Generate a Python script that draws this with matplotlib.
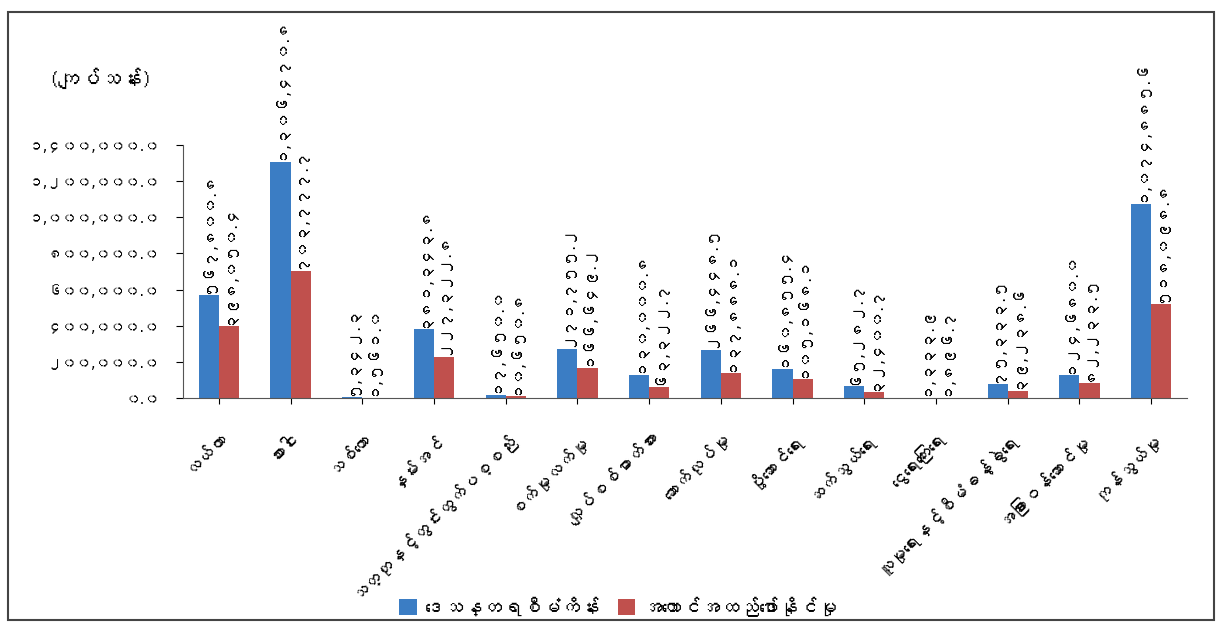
import matplotlib
matplotlib.use("Agg")
import matplotlib.pyplot as plt
import matplotlib.font_manager as fm
from matplotlib.patches import Rectangle
from matplotlib.ft2font import FT2Font
import numpy as np

BLUE = "#3B7DC4"
RED = "#C0504D"

categories = ["လယ်ယာ", "သားငါး", "သစ်တော", "နှမ်းအင်",
              "သတ္တုနှင့်တွင်းထွက်ပစ္စည်း", "စက်မှုလက်မှု", "လျှပ်စစ်ဓာတ်အား",
              "ဆောက်လုပ်မှု", "ပို့ဆောင်ရေး", "ဆက်သွယ်ရေး", "ငွေရေးကြေးရေး",
              "လူမှုရေးနှင့်စီမံခန့်ခွဲရေး", "အခြားဝန်ဆောင်မှု", "ကုန်သွယ်မှု"]
plan = [567800.8, 1306470.8, 5342.3, 381343.8, 17650.0, 271755.2, 130000.8,
        266448.5, 160855.4, 65282.7, 1333.9, 75333.5, 124680.0, 1074885.6]
actual = [398050.4, 703777.7, 1561.0, 227322.8, 10650.8, 166649.2, 63322.7,
          137888.1, 105168.1, 32400.7, 1896.7, 39238.6, 82233.5, 518098.8]
yticks = [0, 200000, 400000, 600000, 800000, 1000000, 1200000, 1400000]
series_names = ["ဒေသန္တရစီမံကိန်း", "အကောင်အထည်ဖော်နိုင်မှု"]
unit_label = "(ကျပ်သန်း)"

# find a font that actually has Myanmar glyphs, if any is installed
mm_fonts = []
for f in fm.fontManager.ttflist:
    try:
        if 0x1000 in FT2Font(f.fname).get_charmap() and f.name not in mm_fonts:
            mm_fonts.append(f.name)
    except Exception:
        pass
MM_FIRST = mm_fonts[:1] + ["DejaVu Sans"]
NUM_FAM = ["DejaVu Sans"] + mm_fonts[:1]   # narrow commas / points from DejaVu
plt.rcParams["font.family"] = MM_FIRST

MM_DIGITS = str.maketrans("0123456789", "၀၁၂၃၄၅၆၇၈၉")


def mm(v):
    return f"{v:,.1f}".translate(MM_DIGITS)


W, H = 1218, 625
fig = plt.figure(figsize=(W / 100, H / 100), dpi=100)
fig.patches.append(Rectangle((8 / W, 5 / H), (1214 - 8) / W, (613 - 5) / H,
                             transform=fig.transFigure, fill=False,
                             edgecolor="#444444", linewidth=1.5))
ax = fig.add_axes([183 / W, 1 - 398 / H, (1187 - 183) / W, (398 - 145) / H])

x = np.arange(len(categories))
bw = 0.28
ax.bar(x - bw / 2, plan, bw, color=BLUE, label=series_names[0])
ax.bar(x + bw / 2, actual, bw, color=RED, label=series_names[1])

for xi, p, a in zip(x, plan, actual):
    ax.text(xi - bw / 2, p + 8000, mm(p), rotation=90, ha="center", va="bottom",
            fontsize=11.5, family=NUM_FAM, clip_on=False)
    ax.text(xi + bw / 2, a + 8000, mm(a), rotation=90, ha="center", va="bottom",
            fontsize=11.5, family=NUM_FAM, clip_on=False)

ax.set_xlim(-0.5, len(categories) - 0.5)
ax.set_ylim(0, 1400000)
ax.set_yticks(yticks)
ax.set_yticklabels([mm(v) for v in yticks], fontsize=10.5, family=NUM_FAM)
ax.set_xticks(x)
ax.set_xticklabels(categories, rotation=45, ha="right", rotation_mode="anchor",
                   fontsize=12.5)
ax.tick_params(axis="x", length=4, pad=18)
ax.tick_params(axis="y", length=5, pad=12)
for s in ["top", "right"]:
    ax.spines[s].set_visible(False)
ax.spines["left"].set_color("#555555")
ax.spines["bottom"].set_color("#555555")

fig.text(100 / W, 1 - 78 / H, unit_label, ha="center", va="center",
         fontsize=15, fontweight="bold")

fig.legend(loc="center", bbox_to_anchor=(0.508, 1 - 607 / H), ncol=2,
           frameon=False, fontsize=14, handlelength=0.9, handleheight=0.9,
           columnspacing=0.9, handletextpad=0.4)

fig.savefig("out.png", dpi=100)
